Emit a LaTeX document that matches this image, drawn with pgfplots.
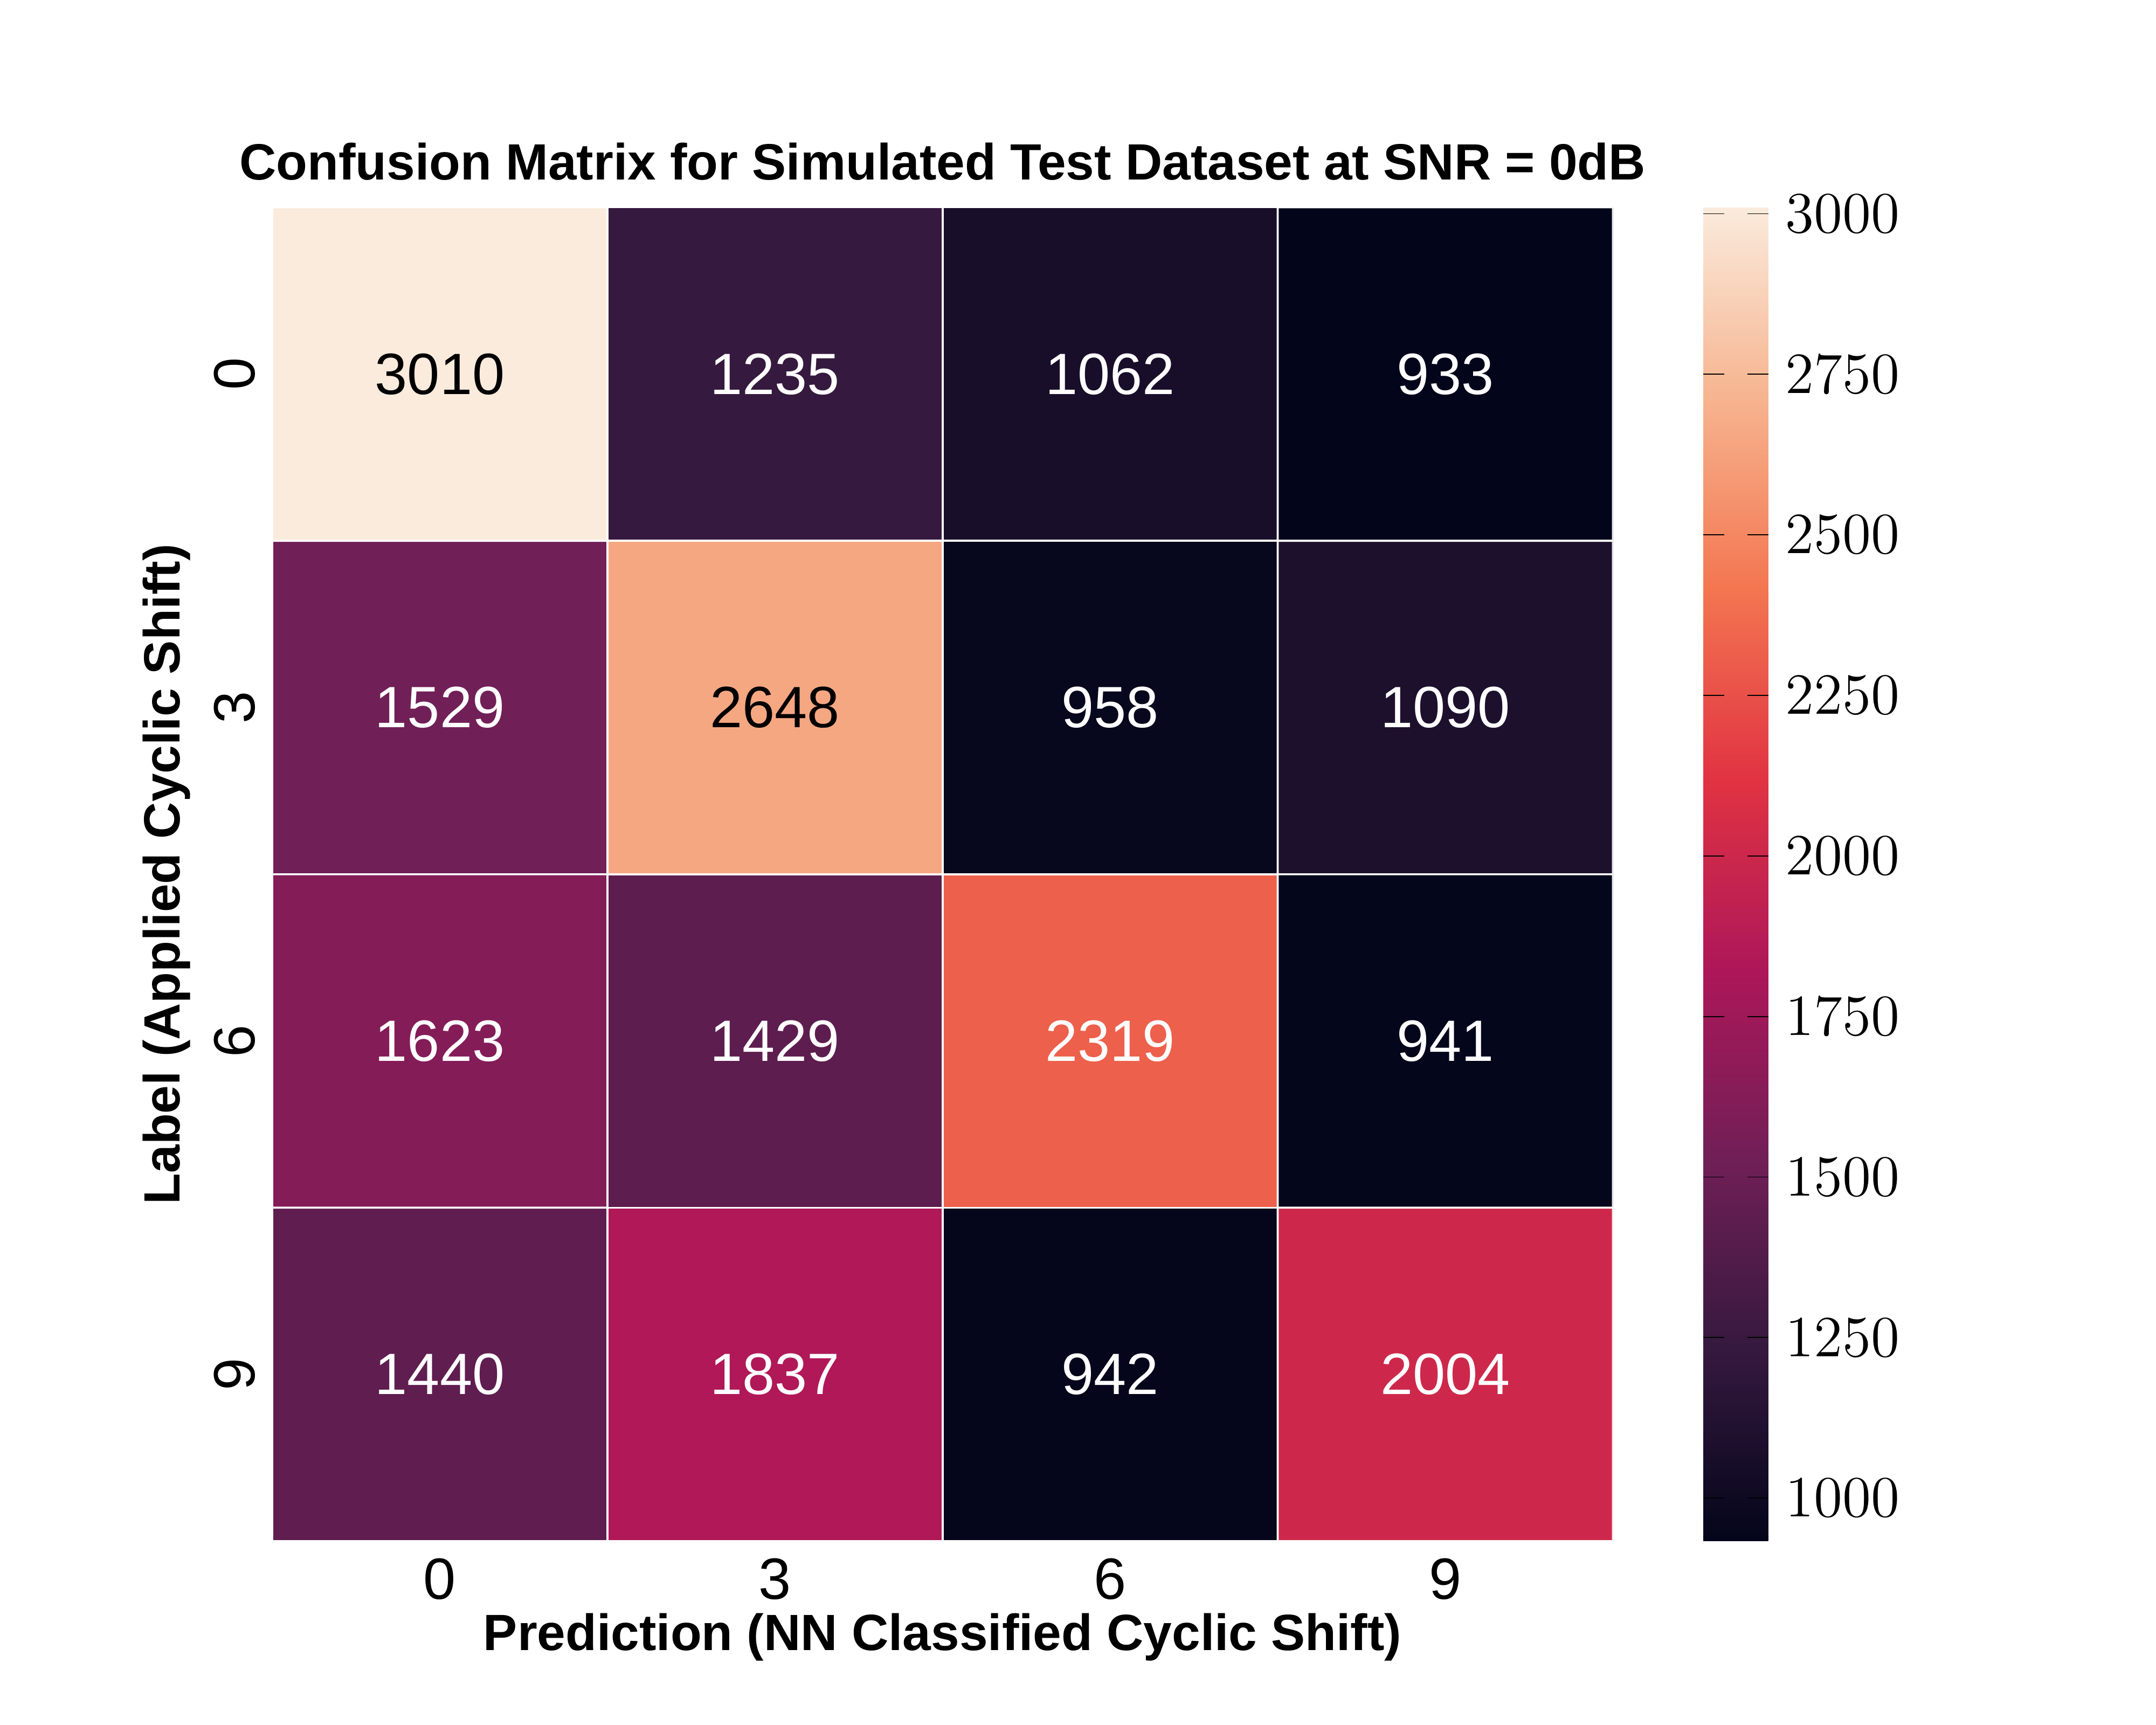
\documentclass[border=0pt]{standalone}
\usepackage{pgfplots}
\pgfplotsset{compat=1.18}
\usepackage{fontspec}
\setmainfont{Liberation Sans}
\pgfplotstableread{
x y v
0 0 3010
1 0 1235
2 0 1062
3 0 933
0 1 1529
1 1 2648
2 1 958
3 1 1090
0 2 1623
1 2 1429
2 2 2319
3 2 941
0 3 1440
1 3 1837
2 3 942
3 3 2004
}\cm
\pgfplotstableread{
x y v
0 0 3010
1 1 2648
}\darkt
\pgfplotstableread{
x y v
1 0 1235
2 0 1062
3 0 933
0 1 1529
2 1 958
3 1 1090
0 2 1623
1 2 1429
2 2 2319
3 2 941
0 3 1440
1 3 1837
2 3 942
3 3 2004
}\lightt
\begin{document}
\begin{tikzpicture}
\useasboundingbox (0,0) rectangle (15.6,12.48);
\begin{axis}[at={(1.97cm,1.33cm)}, anchor=south west,
  scale only axis, width=9.7cm, height=9.65cm,
  xmin=-0.5, xmax=3.5, ymin=-0.5, ymax=3.5, y dir=reverse,
  enlargelimits=false,
  xtick={0,1,2,3}, xticklabels={0,3,6,9},
  ytick={0,1,2,3}, yticklabels={0,3,6,9},
  yticklabel style={rotate=90, anchor=south},
  ticklabel style={font=\fontsize{12}{14}\selectfont},
  /pgf/number format/assume math mode=true,
  axis line style={draw=none}, major tick style={draw=none},
  title={\bfseries Confusion Matrix for Simulated Test Dataset at SNR = 0dB},
  title style={font=\fontsize{10.5}{12}\selectfont, yshift=-4pt},
  xlabel={\bfseries Prediction (NN Classified Cyclic Shift)},
  ylabel={\bfseries Label (Applied Cyclic Shift)},
  label style={font=\fontsize{10.5}{12}\selectfont},
  xlabel style={yshift=4pt}, ylabel style={yshift=-2pt},
  colormap={rocket}{rgb255(0)=(3,5,26) rgb255(1)=(53,25,62) rgb255(2)=(112,31,87) rgb255(3)=(173,23,89) rgb255(4)=(225,51,66) rgb255(5)=(243,118,81) rgb255(6)=(246,180,143) rgb255(7)=(250,235,221)},
  point meta min=933, point meta max=3010,
  colorbar right,
  colorbar style={width=0.47cm, xshift=-0.0cm, ytick={1000,1250,...,3000},
    yticklabel style={font=\fontsize{12}{14}\selectfont, /pgf/number format/1000 sep={}},
    major tick style={draw=black}, axis line style={draw=none}},
]
\addplot[matrix plot*, mesh/cols=4, point meta=explicit, draw=white, line width=0.4pt] table[x=x,y=y,meta=v]{\cm};
\addplot[only marks, mark=none, nodes near coords, point meta=explicit symbolic,
  nodes near coords align=center, nodes near coords style={font=\fontsize{12}{14}\selectfont, text=black}]
  table[x=x,y=y,meta=v]{\darkt};
\addplot[only marks, mark=none, nodes near coords, point meta=explicit symbolic,
  nodes near coords align=center, nodes near coords style={font=\fontsize{12}{14}\selectfont, text=white}]
  table[x=x,y=y,meta=v]{\lightt};
\end{axis}
\end{tikzpicture}
\end{document}
